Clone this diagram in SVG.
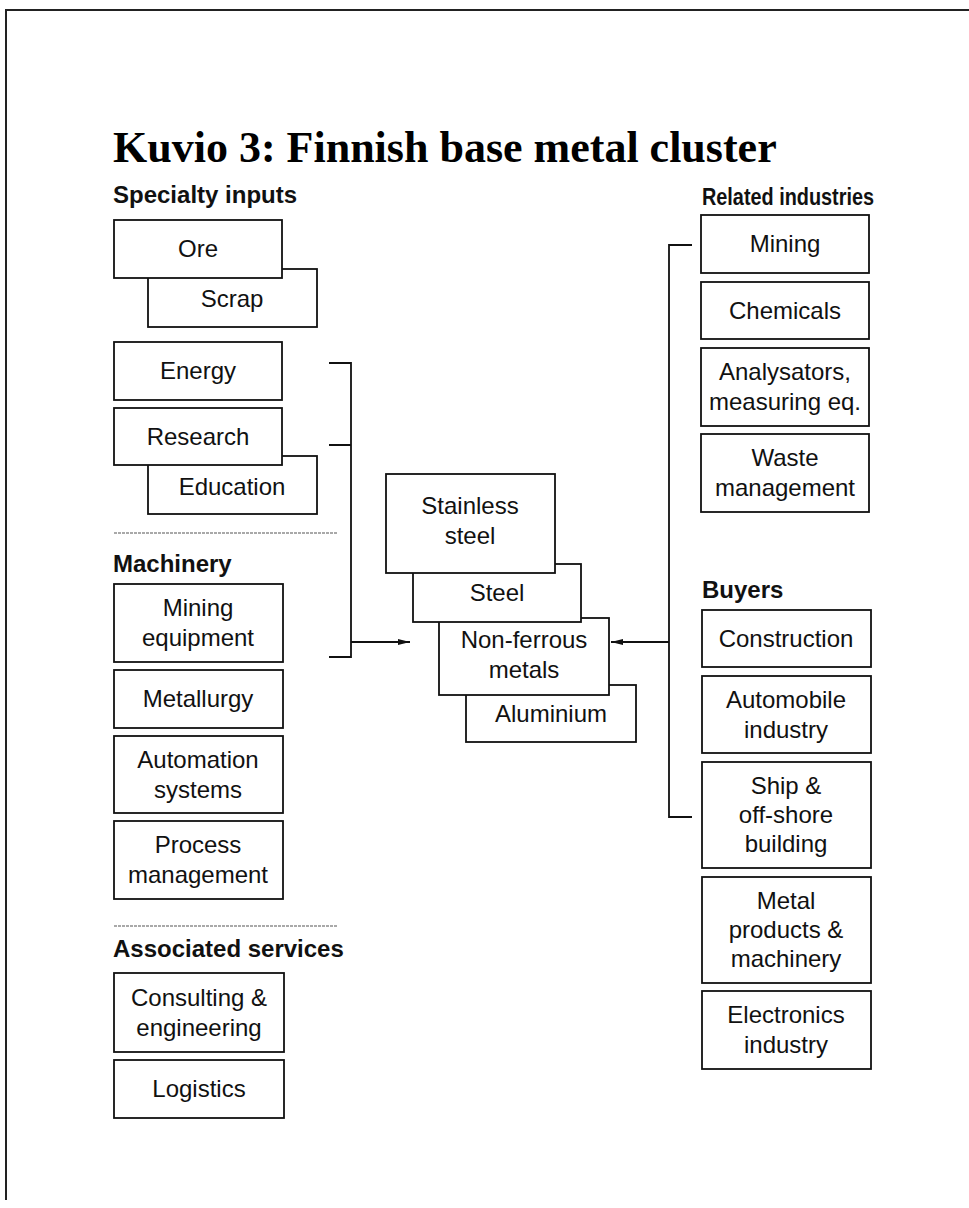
<svg xmlns="http://www.w3.org/2000/svg" width="969" height="1208" viewBox="0 0 969 1208">
<defs>
<style>
.box{fill:#fff;stroke:#111;stroke-width:1.8}
.lbl{font-family:"Liberation Sans",Arial,sans-serif;font-size:24px;fill:#111;text-anchor:middle}
.hd{font-family:"Liberation Sans",Arial,sans-serif;font-size:24px;font-weight:bold;fill:#111}
.ttl{font-family:"Liberation Serif","Times New Roman",serif;font-size:44px;font-weight:bold;fill:#000}
.ln{fill:none;stroke:#111;stroke-width:1.8}
.sep{fill:none;stroke:#555;stroke-width:1.2;stroke-dasharray:3 1}
.frame{fill:none;stroke:#222;stroke-width:2}
</style>
<marker id="arr" viewBox="0 0 12 8" refX="12" refY="4" markerWidth="12" markerHeight="8" markerUnits="userSpaceOnUse" orient="auto">
<path d="M0,1 L12,4 L0,7 Z" fill="#111"/>
</marker>
</defs>
<rect width="969" height="1208" fill="#fff"/>
<path class="frame" d="M6,1200 V10 H969"/>
<text class="ttl" x="113" y="162">Kuvio 3: Finnish base metal cluster</text>

<g id="headings">
<text class="hd" x="113" y="203">Specialty inputs</text>
<text class="hd" x="113" y="572">Machinery</text>
<text class="hd" x="113" y="957">Associated services</text>
<text class="hd" x="702" y="205" textLength="172" lengthAdjust="spacingAndGlyphs">Related industries</text>
<text class="hd" x="702" y="598">Buyers</text>
</g>
<g id="separators">
<path class="sep" d="M114,533 H338"/>
<path class="sep" d="M114,926 H338"/>
</g>

<g id="connectors">
<path class="ln" d="M329,363 H351 V657 H329 M329,445 H351"/>
<path class="ln" d="M351,642 H410" marker-end="url(#arr)"/>
<path class="ln" d="M692,245 H669 V817 H692"/>
<path class="ln" d="M669,642 H611" marker-end="url(#arr)"/>
</g>

<g id="n-scrap"><rect class="box" x="148" y="269" width="169" height="58"/><text class="lbl" x="232" y="307">Scrap</text></g>
<g id="n-ore"><rect class="box" x="114" y="220" width="168" height="58"/><text class="lbl" x="198" y="257">Ore</text></g>
<g id="n-energy"><rect class="box" x="114" y="342" width="168" height="58"/><text class="lbl" x="198" y="379">Energy</text></g>
<g id="n-education"><rect class="box" x="148" y="456" width="169" height="58"/><text class="lbl" x="232" y="495">Education</text></g>
<g id="n-research"><rect class="box" x="114" y="408" width="168" height="57"/><text class="lbl" x="198" y="445">Research</text></g>

<g id="n-mining-eq"><rect class="box" x="114" y="584" width="169" height="78"/><text class="lbl" x="198" y="616">Mining</text><text class="lbl" x="198" y="646">equipment</text></g>
<g id="n-metallurgy"><rect class="box" x="114" y="670" width="169" height="58"/><text class="lbl" x="198" y="707">Metallurgy</text></g>
<g id="n-automation"><rect class="box" x="114" y="736" width="169" height="77"/><text class="lbl" x="198" y="768">Automation</text><text class="lbl" x="198" y="798">systems</text></g>
<g id="n-process"><rect class="box" x="114" y="821" width="169" height="78"/><text class="lbl" x="198" y="853">Process</text><text class="lbl" x="198" y="883">management</text></g>

<g id="n-consulting"><rect class="box" x="114" y="973" width="170" height="79"/><text class="lbl" x="199" y="1006">Consulting &amp;</text><text class="lbl" x="199" y="1036">engineering</text></g>
<g id="n-logistics"><rect class="box" x="114" y="1060" width="170" height="58"/><text class="lbl" x="199" y="1097">Logistics</text></g>

<g id="n-aluminium"><rect class="box" x="466" y="685" width="170" height="57"/><text class="lbl" x="551" y="722">Aluminium</text></g>
<g id="n-nonferrous"><rect class="box" x="439" y="618" width="170" height="77"/><text class="lbl" x="524" y="648">Non-ferrous</text><text class="lbl" x="524" y="678">metals</text></g>
<g id="n-steel"><rect class="box" x="413" y="564" width="168" height="58"/><text class="lbl" x="497" y="601">Steel</text></g>
<g id="n-stainless"><rect class="box" x="386" y="474" width="169" height="99"/><text class="lbl" x="470" y="514">Stainless</text><text class="lbl" x="470" y="544">steel</text></g>

<g id="n-mining"><rect class="box" x="701" y="215" width="168" height="58"/><text class="lbl" x="785" y="252">Mining</text></g>
<g id="n-chemicals"><rect class="box" x="701" y="282" width="168" height="57"/><text class="lbl" x="785" y="319">Chemicals</text></g>
<g id="n-analysators"><rect class="box" x="701" y="348" width="168" height="78"/><text class="lbl" x="785" y="380">Analysators,</text><text class="lbl" x="785" y="410">measuring eq.</text></g>
<g id="n-waste"><rect class="box" x="701" y="434" width="168" height="78"/><text class="lbl" x="785" y="466">Waste</text><text class="lbl" x="785" y="496">management</text></g>

<g id="n-construction"><rect class="box" x="702" y="610" width="169" height="57"/><text class="lbl" x="786" y="647">Construction</text></g>
<g id="n-automobile"><rect class="box" x="702" y="676" width="169" height="77"/><text class="lbl" x="786" y="708">Automobile</text><text class="lbl" x="786" y="738">industry</text></g>
<g id="n-ship"><rect class="box" x="702" y="762" width="169" height="106"/><text class="lbl" x="786" y="794">Ship &amp;</text><text class="lbl" x="786" y="823">off-shore</text><text class="lbl" x="786" y="852">building</text></g>
<g id="n-metalprod"><rect class="box" x="702" y="877" width="169" height="106"/><text class="lbl" x="786" y="909">Metal</text><text class="lbl" x="786" y="938">products &amp;</text><text class="lbl" x="786" y="967">machinery</text></g>
<g id="n-electronics"><rect class="box" x="702" y="991" width="169" height="78"/><text class="lbl" x="786" y="1023">Electronics</text><text class="lbl" x="786" y="1053">industry</text></g>
</svg>
